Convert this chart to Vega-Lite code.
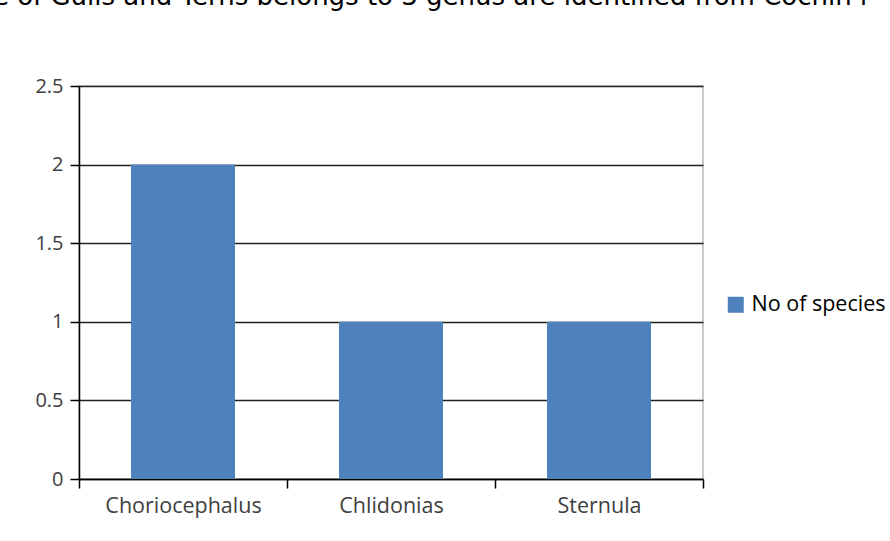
{
  "$schema": "https://vega.github.io/schema/vega-lite/v6.json",
  "autosize": {"type": "none"},
  "width": 624,
  "height": 393,
  "padding": {"left": 79, "top": 86, "right": 187, "bottom": 62},
  "background": "white",
  "title": {
    "text": "e of Gulls and Terns belongs to 3 genus are identified from Cochin r",
    "anchor": "start",
    "font": "DejaVu Sans",
    "fontSize": 26,
    "fontWeight": "normal",
    "color": "#000",
    "baseline": "alphabetic",
    "offset": 0,
    "dx": -42,
    "dy": -45
  },
  "data": {
    "values": [
      {"genus": "Choriocephalus", "count": 2, "series": "No of species"},
      {"genus": "Chlidonias", "count": 1, "series": "No of species"},
      {"genus": "Sternula", "count": 1, "series": "No of species"}
    ]
  },
  "mark": {"type": "bar", "width": {"band": 0.5}},
  "encoding": {
    "x": {
      "field": "genus",
      "type": "nominal",
      "sort": null,
      "scale": {"paddingInner": 0, "paddingOuter": 0},
      "axis": {
        "title": null,
        "labelAngle": 0,
        "tickBand": "extent",
        "tickSize": 9,
        "tickColor": "#000",
        "tickWidth": 1.5,
        "domainColor": "#000",
        "domainWidth": 1.5,
        "labelFont": "Open Sans",
        "labelFontSize": 21.5,
        "labelColor": "#404040",
        "labelPadding": 7
      }
    },
    "y": {
      "field": "count",
      "type": "quantitative",
      "scale": {"domain": [0, 2.5]},
      "axis": {
        "title": null,
        "values": [0, 0.5, 1, 1.5, 2, 2.5],
        "format": "~g",
        "tickSize": 9,
        "tickColor": "#000",
        "tickWidth": 1.5,
        "domainColor": "#000",
        "domainWidth": 1.5,
        "grid": true,
        "gridColor": "#222",
        "gridWidth": 1.5,
        "labelFont": "Open Sans",
        "labelFontSize": 20,
        "labelColor": "#404040",
        "labelPadding": 7
      }
    },
    "color": {
      "field": "series",
      "type": "nominal",
      "scale": {"range": ["#4F81BD"]},
      "legend": {
        "title": null,
        "orient": "none",
        "legendX": 646,
        "legendY": 208,
        "symbolType": "square",
        "symbolSize": 256,
        "symbolStrokeWidth": 0,
        "labelFont": "Open Sans",
        "labelFontSize": 21.5,
        "labelColor": "#000",
        "labelOffset": 5
      }
    }
  },
  "config": {
    "view": {"stroke": "#bbb", "strokeWidth": 1.5}
  }
}
